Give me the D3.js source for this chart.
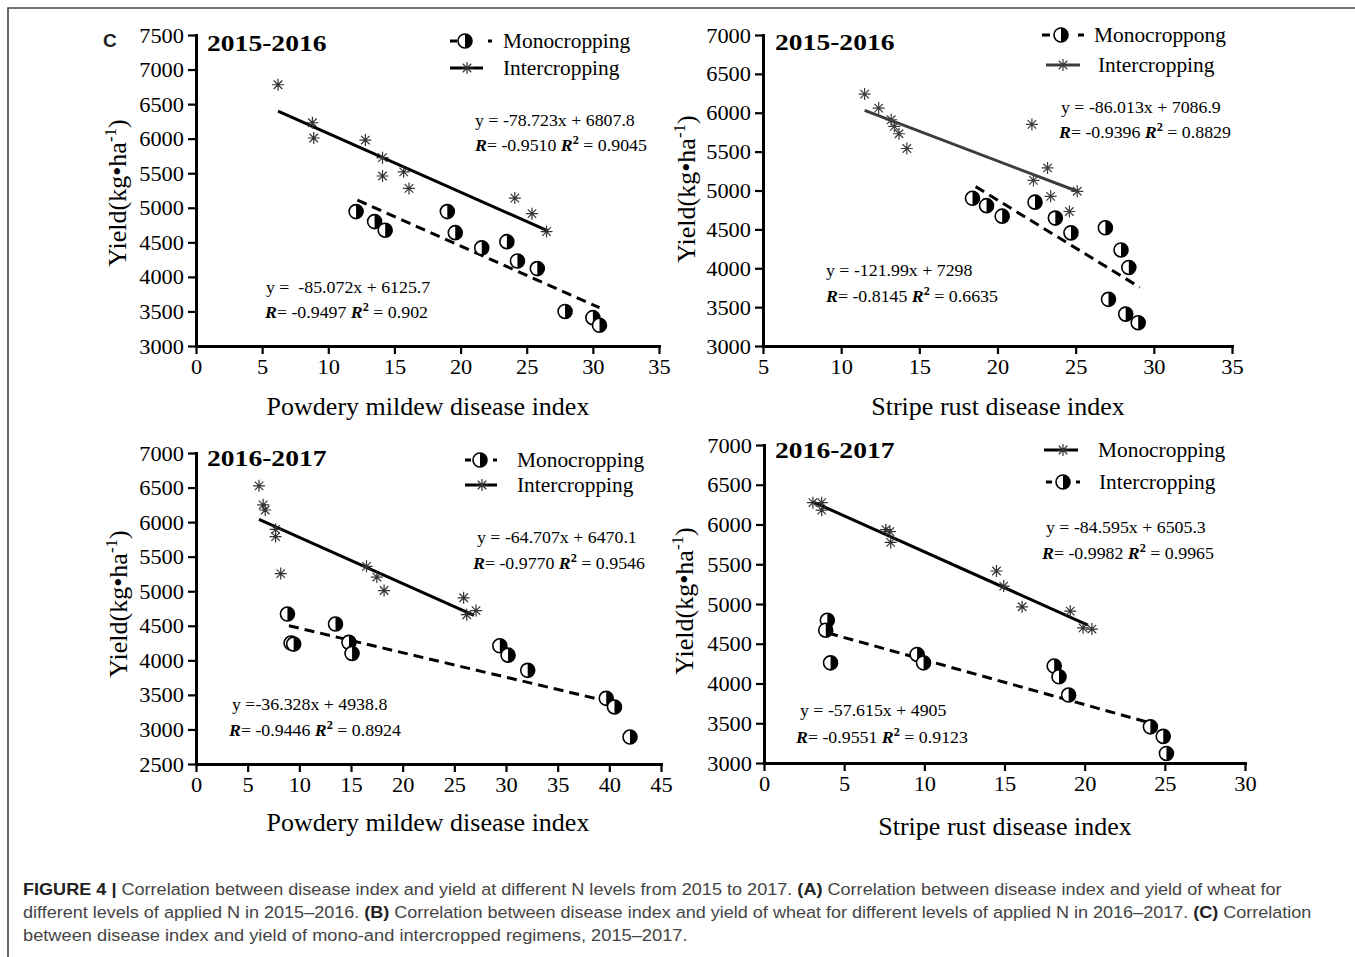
<!DOCTYPE html>
<html><head><meta charset="utf-8">
<script src="https://cdn.jsdelivr.net/npm/d3@7"></script>
<style>body{margin:0;background:#fff}svg{display:block}text{white-space:pre}</style>
</head><body><svg id="c" width="1355" height="957"></svg>
<script>
// ---------------- DATA ----------------
// Panel A: 2015-2016, powdery mildew
const pmA_intX  = [6.2, 8.8, 8.9, 12.8, 14.1, 14.1, 15.7, 16.1, 18.9, 24.1, 25.4, 26.5];
const pmA_intY  = [6780, 6230, 6010, 5980, 5725, 5460, 5520, 5280, 4965, 5140, 4915, 4655];
const pmA_monoX = [12.1, 13.5, 14.3, 19.0, 19.6, 21.6, 23.5, 24.3, 25.8, 27.9, 30.0, 30.5];
const pmA_monoY = [4945, 4800, 4675, 4945, 4640, 4420, 4510, 4230, 4120, 3500, 3410, 3300];
const pmA_intFit  = [[6.2, 6400], [26.6, 4665]];
const pmA_monoFit = [[12.2, 5112], [30.5, 3554]];
// Panel B: 2015-2016, stripe rust
const srB_intX  = [11.5, 12.4, 13.2, 13.4, 13.7, 14.2, 22.2, 23.2, 22.3, 23.4, 24.6, 25.1];
const srB_intY  = [6240, 6060, 5910, 5825, 5730, 5540, 5850, 5290, 5130, 4925, 4730, 4990];
const srB_monoX = [18.4, 19.3, 20.3, 22.4, 23.7, 24.7, 26.9, 27.9, 28.4, 27.1, 28.2, 29.0];
const srB_monoY = [4900, 4805, 4670, 4850, 4645, 4455, 4520, 4235, 4010, 3600, 3410, 3300];
const srB_intFit  = [[11.5, 6030], [25.1, 4990]];
const srB_monoFit = [[18.6, 5050], [29.1, 3755]];
// Panel C: 2016-2017, powdery mildew
const pmC_intX  = [6.1, 6.5, 6.7, 7.7, 7.7, 8.2, 16.5, 17.5, 18.2, 25.9, 26.2, 27.1];
const pmC_intY  = [6525, 6250, 6175, 5895, 5790, 5255, 5360, 5205, 5010, 4905, 4660, 4720];
const pmC_monoX = [8.85, 9.2, 9.45, 13.5, 14.8, 15.1, 29.4, 30.2, 32.1, 39.7, 40.5, 42.0];
const pmC_monoY = [4670, 4250, 4235, 4525, 4260, 4100, 4210, 4075, 3855, 3450, 3325, 2890];
const pmC_intFit  = [[6.1, 6040], [26.9, 4650]];
const pmC_monoFit = [[9.0, 4500], [40.9, 3370]];
// Panel D: 2016-2017, stripe rust (legend: stars = Monocropping, circles = Intercropping)
const srD_starX   = [3.05, 3.6, 3.6, 7.6, 7.85, 7.9, 14.5, 14.95, 16.1, 19.1, 19.9, 20.45];
const srD_starY   = [6275, 6275, 6180, 5935, 5910, 5775, 5415, 5225, 4965, 4910, 4700, 4685];
const srD_circleX = [3.95, 3.85, 4.15, 9.55, 9.95, 18.1, 18.4, 19.0, 24.1, 24.9, 25.1];
const srD_circleY = [4795, 4670, 4260, 4365, 4260, 4220, 4085, 3855, 3455, 3335, 3120];
const srD_starFit   = [[3.05, 6285], [20.2, 4735]];
const srD_circleFit = [[4.0, 4635], [24.25, 3495]];

// tick labels
const xTicksA = [0, 5, 10, 15, 20, 25, 30, 35];
const yTicksA = [3000, 3500, 4000, 4500, 5000, 5500, 6000, 6500, 7000, 7500];
const xTicksB = [5, 10, 15, 20, 25, 30, 35];
const yTicksB = [3000, 3500, 4000, 4500, 5000, 5500, 6000, 6500, 7000];
const xTicksC = [0, 5, 10, 15, 20, 25, 30, 35, 40, 45];
const yTicksC = [2500, 3000, 3500, 4000, 4500, 5000, 5500, 6000, 6500, 7000];
const xTicksD = [0, 5, 10, 15, 20, 25, 30];
const yTicksD = [3000, 3500, 4000, 4500, 5000, 5500, 6000, 6500, 7000];

// texts
const titles  = ["2015-2016", "2015-2016", "2016-2017", "2016-2017"];
const xLabels = ["Powdery mildew disease index", "Stripe rust disease index", "Powdery mildew disease index", "Stripe rust disease index"];
const legendA = ["Monocropping", "Intercropping"];
const legendB = ["Monocroppong", "Intercropping"];
const legendC = ["Monocropping", "Intercropping"];
const legendD = ["Monocropping", "Intercropping"];
const eqA = [["y = -78.723x + 6807.8", "-0.9510", "0.9045"], ["y =  -85.072x + 6125.7", "-0.9497", "0.902"]];
const eqB = [["y = -86.013x + 7086.9", "-0.9396", "0.8829"], ["y = -121.99x + 7298", "-0.8145", "0.6635"]];
const eqC = [["y = -64.707x + 6470.1", "-0.9770", "0.9546"], ["y =-36.328x + 4938.8", "-0.9446", "0.8924"]];
const eqD = [["y = -84.595x + 6505.3", "-0.9982", "0.9965"], ["y = -57.615x + 4905", "-0.9551", "0.9123"]];

const captionLines = [
  [["FIGURE 4 | ", 1], ["Correlation between disease index and yield at different N levels from 2015 to 2017. ", 0], ["(A)", 1], [" Correlation between disease index and yield of wheat for", 0]],
  [["different levels of applied N in 2015\u20132016. ", 0], ["(B)", 1], [" Correlation between disease index and yield of wheat for different levels of applied N in 2016\u20132017. ", 0], ["(C)", 1], [" Correlation", 0]],
  [["between disease index and yield of mono-and intercropped regimens, 2015\u20132017.", 0]]
];

// ---------------- LAYOUT ----------------
const SERIF = "'Liberation Serif','Times New Roman',Times,serif";
const SANS = "'Liberation Sans',Arial,Helvetica,sans-serif";
const svg = d3.select('#c');

svg.append('path').attr('d', 'M8,957V8H1355').attr('fill', 'none')
  .attr('stroke', '#444').attr('stroke-width', 1.6);

svg.append('text').attr('x', 103).attr('y', 47).attr('font-family', SANS)
  .attr('font-weight', 'bold').attr('font-size', 19).attr('fill', '#222').text('C');

const panels = [
  { xd: [0, 35], yd: [3000, 7500], xr: [196, 659], yr: [346, 35], xt: xTicksA, yt: yTicksA,
    title: titles[0], titleAt: [207, 51], xLabel: xLabels[0], xLabelAt: [428, 415], yLabelAt: [126, 193],
    lineColor: '#000', starColor: '#333',
    stars: [pmA_intX, pmA_intY, pmA_intFit], circles: [pmA_monoX, pmA_monoY, pmA_monoFit],
    legend: [
      { kind: 'circle', label: legendA[0], y: 41, tx: 503, x0: 450, d0: 457, cx: 465, d1: 488, x1: 492 },
      { kind: 'star', label: legendA[1], y: 68, tx: 503, x0: 450, cx: 467, x1: 483 }],
    eqs: [{ v: eqA[0], x: 475, y: 126, rx: 475, ry: 151 }, { v: eqA[1], x: 266, y: 293, rx: 265, ry: 318 }] },
  { xd: [5, 35], yd: [3000, 7000], xr: [763, 1232], yr: [346, 35], xt: xTicksB, yt: yTicksB,
    title: titles[1], titleAt: [775, 50], xLabel: xLabels[1], xLabelAt: [998, 415], yLabelAt: [695, 189],
    lineColor: '#3c3c3c', starColor: '#3c3c3c',
    stars: [srB_intX, srB_intY, srB_intFit], circles: [srB_monoX, srB_monoY, srB_monoFit],
    legend: [
      { kind: 'circle', label: legendB[0], y: 35, tx: 1094, x0: 1042, d0: 1050, cx: 1061, d1: 1078, x1: 1084 },
      { kind: 'star', label: legendB[1], y: 65, tx: 1098, x0: 1046, cx: 1063, x1: 1080 }],
    eqs: [{ v: eqB[0], x: 1061, y: 113, rx: 1059, ry: 138 }, { v: eqB[1], x: 826, y: 276, rx: 826, ry: 302 }] },
  { xd: [0, 45], yd: [2500, 7000], xr: [196, 661], yr: [764, 453], xt: xTicksC, yt: yTicksC,
    title: titles[2], titleAt: [207, 466], xLabel: xLabels[2], xLabelAt: [428, 831], yLabelAt: [127, 604],
    lineColor: '#000', starColor: '#333',
    stars: [pmC_intX, pmC_intY, pmC_intFit], circles: [pmC_monoX, pmC_monoY, pmC_monoFit],
    legend: [
      { kind: 'circle', label: legendC[0], y: 460, tx: 517, x0: 465, d0: 471, cx: 480, d1: 493, x1: 497 },
      { kind: 'star', label: legendC[1], y: 485, tx: 517, x0: 465, cx: 482, x1: 497 }],
    eqs: [{ v: eqC[0], x: 477, y: 543, rx: 473, ry: 569 }, { v: eqC[1], x: 232, y: 710, rx: 229, ry: 736 }] },
  { xd: [0, 30], yd: [3000, 7000], xr: [764, 1245], yr: [763, 445], xt: xTicksD, yt: yTicksD,
    title: titles[3], titleAt: [775, 458], xLabel: xLabels[3], xLabelAt: [1005, 835], yLabelAt: [693, 601],
    lineColor: '#000', starColor: '#333',
    stars: [srD_starX, srD_starY, srD_starFit], circles: [srD_circleX, srD_circleY, srD_circleFit],
    legend: [
      { kind: 'star', label: legendD[0], y: 450, tx: 1098, x0: 1044, cx: 1063, x1: 1078 },
      { kind: 'circle', label: legendD[1], y: 482, tx: 1099, x0: 1046, d0: 1052, cx: 1063, d1: 1076, x1: 1080 }],
    eqs: [{ v: eqD[0], x: 1046, y: 533, rx: 1042, ry: 559 }, { v: eqD[1], x: 800, y: 716, rx: 796, ry: 743 }] }
];

const TICK_FS = 20, TICK_SX = 1.12;
const R_CIRC = 7, R_STAR = 6;

function starPath(r) {
  const a = r * Math.SQRT1_2;
  return `M0,${-r}V${r}M${-r},0H${r}M${-a},${-a}L${a},${a}M${-a},${a}L${a},${-a}`;
}
function drawHalfCircle(g, cx, cy, r) {
  g.append('circle').attr('cx', cx).attr('cy', cy).attr('r', r)
    .attr('fill', '#fff').attr('stroke', '#000').attr('stroke-width', 1.6);
  g.append('path').attr('d', `M${cx},${cy - r}A${r},${r} 0 0,1 ${cx},${cy + r}Z`).attr('fill', '#000');
}
function stext(g, x, y, str, fs, sx, opts = {}) {
  return g.append('text')
    .attr('transform', `translate(${x},${y}) scale(${sx},1)`)
    .attr('font-family', SERIF).attr('font-size', fs)
    .attr('font-weight', opts.bold ? 'bold' : null)
    .attr('text-anchor', opts.anchor || 'start')
    .attr('fill', '#000').text(str);
}

panels.forEach(p => {
  const g = svg.append('g');
  const x = d3.scaleLinear().domain(p.xd).range(p.xr);
  const y = d3.scaleLinear().domain(p.yd).range(p.yr);

  // axes
  const ax = g.append('g').attr('transform', `translate(0,${p.yr[0]})`)
    .call(d3.axisBottom(x).tickValues(p.xt).tickSize(8).tickSizeOuter(0).tickFormat(d3.format('d')));
  const ay = g.append('g').attr('transform', `translate(${p.xr[0]},0)`)
    .call(d3.axisLeft(y).tickValues(p.yt).tickSize(8).tickSizeOuter(0).tickFormat(d3.format('d')));
  [ax, ay].forEach(a => {
    a.select('.domain').attr('stroke', '#000').attr('stroke-width', 3).attr('stroke-linecap', 'square');
    a.selectAll('.tick line').attr('stroke', '#000').attr('stroke-width', 2.2);
    a.attr('font-family', SERIF).attr('font-size', TICK_FS);
  });
  ax.selectAll('.tick text').attr('y', null).attr('dy', null).attr('fill', '#000')
    .attr('transform', `translate(0,28) scale(${TICK_SX},1)`);
  ay.selectAll('.tick text').attr('x', null).attr('dy', null).attr('fill', '#000')
    .attr('transform', `translate(-12,7) scale(${TICK_SX},1)`);

  // regression lines
  const lg = d3.line().x(d => x(d[0])).y(d => y(d[1]));
  g.append('path').datum(p.stars[2]).attr('d', lg).attr('fill', 'none')
    .attr('stroke', p.lineColor).attr('stroke-width', 3);
  g.append('path').datum(p.circles[2]).attr('d', lg).attr('fill', 'none')
    .attr('stroke', '#000').attr('stroke-width', 3).attr('stroke-dasharray', '10,6');

  // stars
  g.append('g').selectAll('path').data(d3.zip(p.stars[0], p.stars[1])).join('path')
    .attr('transform', d => `translate(${x(d[0])},${y(d[1])})`)
    .attr('d', starPath(R_STAR)).attr('fill', 'none').attr('stroke', p.starColor).attr('stroke-width', 1.2);
  // half-filled circles
  const cg = g.append('g');
  d3.zip(p.circles[0], p.circles[1]).forEach(d => drawHalfCircle(cg, x(d[0]), y(d[1]), R_CIRC));

  // title
  stext(g, p.titleAt[0], p.titleAt[1], p.title, 23, 1.2, { bold: true });
  // x label
  stext(g, p.xLabelAt[0], p.xLabelAt[1], p.xLabel, 25.5, 1.02, { anchor: 'middle' });
  // y label
  const yl = g.append('text').attr('transform', `translate(${p.yLabelAt[0]},${p.yLabelAt[1]}) rotate(-90)`)
    .attr('font-family', SERIF).attr('font-size', 26).attr('text-anchor', 'middle').attr('fill', '#000');
  yl.append('tspan').text('Yield(kg\u2022ha');
  yl.append('tspan').attr('font-size', 17).attr('dy', -10).text('-1');
  yl.append('tspan').attr('dy', 10).text(')');

  // legend
  p.legend.forEach(L => {
    if (L.kind === 'star') {
      g.append('line').attr('x1', L.x0).attr('x2', L.x1).attr('y1', L.y).attr('y2', L.y)
        .attr('stroke', p.lineColor).attr('stroke-width', 3);
      g.append('path').attr('transform', `translate(${L.cx},${L.y})`).attr('d', starPath(R_STAR))
        .attr('fill', 'none').attr('stroke', p.starColor).attr('stroke-width', 1.2);
    } else {
      g.append('line').attr('x1', L.x0).attr('x2', L.d0).attr('y1', L.y).attr('y2', L.y)
        .attr('stroke', '#000').attr('stroke-width', 3);
      g.append('line').attr('x1', L.d1).attr('x2', L.x1).attr('y1', L.y).attr('y2', L.y)
        .attr('stroke', '#000').attr('stroke-width', 3);
      drawHalfCircle(g, L.cx, L.y, R_CIRC);
    }
    stext(g, L.tx, L.y + 7, L.label, 20, 1.07);
  });

  // equations
  p.eqs.forEach(E => {
    stext(g, E.x, E.y, E.v[0], 17.5, 1.02);
    const t = stext(g, E.rx, E.ry, '', 17.5, 1.02);
    t.append('tspan').attr('font-weight', 'bold').attr('font-style', 'italic').text('R');
    t.append('tspan').text('= ' + E.v[1] + ' ');
    t.append('tspan').attr('font-weight', 'bold').attr('font-style', 'italic').text('R');
    t.append('tspan').attr('font-weight', 'bold').attr('font-size', 12).attr('dy', -7).text('2');
    t.append('tspan').attr('dy', 7).text(' = ' + E.v[2]);
  });
});

// caption
const capTargets = [[23, 895, 1283], [23, 918, 1313], [23, 941, 688]];
captionLines.forEach((line, i) => {
  const [x0, yb, x1] = capTargets[i];
  const t = svg.append('text').attr('font-family', SANS).attr('font-size', 16.5).attr('fill', '#444');
  line.forEach(([s, b]) => t.append('tspan').attr('font-weight', b ? 'bold' : null)
    .attr('fill', b ? '#222' : null).text(s));
  const w = t.node().getComputedTextLength();
  t.attr('transform', `translate(${x0},${yb}) scale(${(x1 - x0) / w},1)`);
});
</script></body></html>
